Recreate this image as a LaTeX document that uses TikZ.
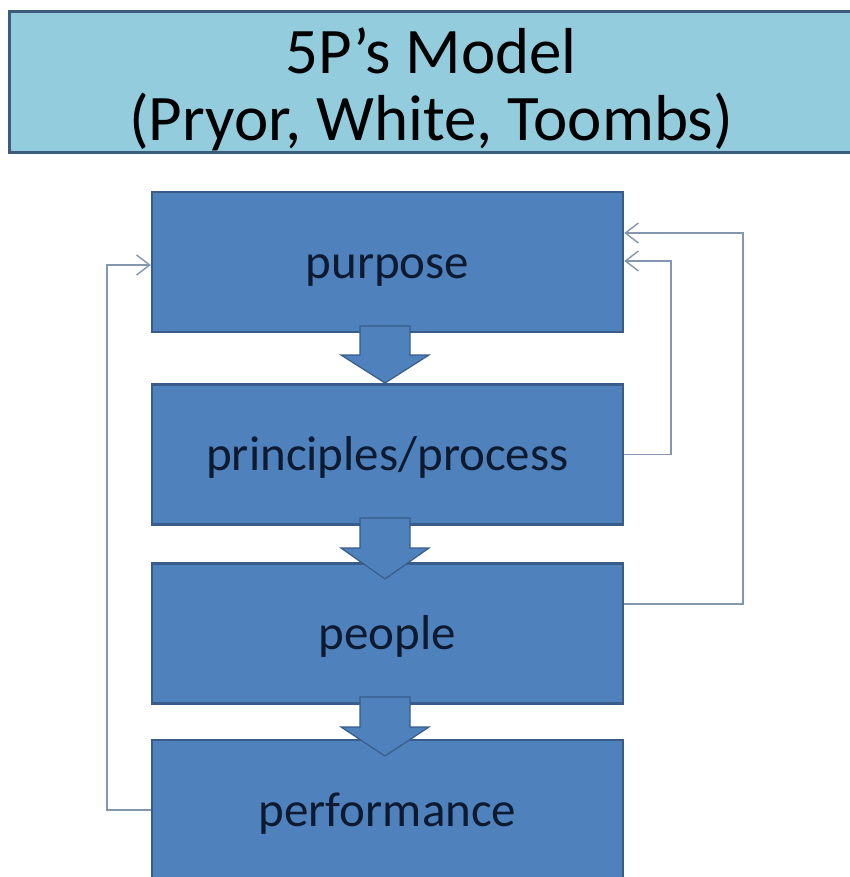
\documentclass[tikz,border=0pt]{standalone}
\usepackage{fontspec}
\setmainfont{Carlito}
\usetikzlibrary{arrows.meta}
\definecolor{titlefill}{HTML}{93CDDD}
\definecolor{titleedge}{HTML}{3D5C7C}
\definecolor{boxfill}{HTML}{4F81BD}
\definecolor{boxedge}{HTML}{385D8A}
\definecolor{boxtext}{HTML}{0E1A30}
\definecolor{loopline}{HTML}{8597AF}
\tikzset{
  titlebox/.style={draw=titleedge, line width=3pt, fill=titlefill,
    minimum width=846, minimum height=141, inner sep=0pt},
  titletext/.style={font={\fontsize{65}{67}\selectfont}, align=center, inner sep=0pt, text=black},
  stagebox/.style={draw=boxedge, line width=2.5pt, fill=boxfill,
    minimum width=471, minimum height=140, inner sep=0pt},
  stagetext/.style={text=boxtext, font={\fontsize{49}{55}\selectfont}, anchor=base, inner sep=0pt},
  blockarrow/.style={draw=boxedge, line width=1.2pt, fill=boxfill, line join=miter},
  feedback/.style={draw=loopline, line width=1.4pt,
    -{Straight Barb[length=13pt,width=20pt,line width=1.4pt]}}
}
\begin{document}
\begin{tikzpicture}[x=1pt,y=-1pt]
  \useasboundingbox (0,0) rectangle (850,877);
  \clip (0,0) rectangle (850,877);
  \fill[white] (0,0) rectangle (850,877);

  % heading
  \node[titlebox] (title) at (432,82.5) {};
  \node[titletext] (titletext) at (431,89) {5P’s Model\\(Pryor, White, Toombs)};

  % the four stages
  \node[stagebox] (purpose)    at (387.5,262) {};
  \node[stagebox] (principles) at (387.5,454.5) {};
  \node[stagebox] (people)     at (387.5,633.5) {};
  \node[stagebox] (perf)       at (387.5,810) {};
  \foreach \n/\t in {purpose/purpose, principles/principles\slash process,
                     people/people, perf/performance}{
    \node[stagetext] at ([yshift=-16pt]\n.center) {\t};
  }

  % downward block arrows between stages
  \foreach \top/\neck/\tip in {326/355/383, 518/548/579, 697/727/756}{
    \draw[blockarrow] (360,\top) -- (410,\top) -- (410,\neck) -- (429,\neck)
      -- (385,\tip) -- (341,\neck) -- (360,\neck) -- cycle;
  }

  % feedback loops back to purpose
  \coordinate (leftin)  at ([yshift=-3pt]purpose.west);
  \coordinate (innerin) at ([yshift=1pt]purpose.east);
  \coordinate (outerin) at ([yshift=29pt]purpose.east);
  \coordinate (outerout) at ([yshift=29.5pt]people.east);
  \coordinate (leftturn) at (107,0);
  \coordinate (innerturn) at (671,0);
  \coordinate (outerturn) at (743,0);
  \draw[feedback] (perf.west) -| (leftturn |- leftin) -- (leftin);
  \draw[feedback] (principles.east) -| (innerturn |- innerin) -- (innerin);
  \draw[feedback] (outerout) -| (outerturn |- outerin) -- (outerin);
\end{tikzpicture}
\end{document}
